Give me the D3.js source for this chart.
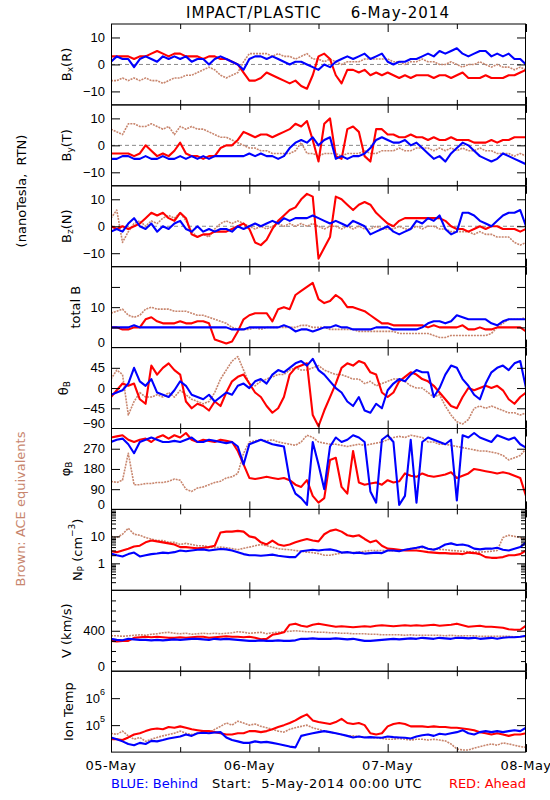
<!DOCTYPE html>
<html><head><meta charset="utf-8">
<script src="https://cdn.jsdelivr.net/npm/d3@7"></script>
<style>
body{margin:0;background:#fff;}
svg text{font-family:"DejaVu Sans",sans-serif;}
</style></head><body>
<svg id="c" width="550" height="800"></svg>
<script>
// ---- time (hours since 05-May-2014 00:00 UTC) ----
const hourOffsets = [0,1,2,3,4,5,6,7,8,9,10,11,12,13,14,15,16,17,18,19,20,21,22,23,24,25,26,27,28,29,30,31,32,33,34,35,36,37,38,39,40,41,42,43,44,45,46,47,48,49,50,51,52,53,54,55,56,57,58,59,60,61,62,63,64,65,66,67,68,69,70,71,72];
const timeTickHours = [0,12,24,36,48,60,72];
const dayLabelHours = [0,24,48,72];
const dayLabels = ["05-May","06-May","07-May","08-May"];

// ---- Bx (R), nT ----
const bxBlue = [1,3,2,2,-1,2,3,2,1,3, 2,3,2,3,1,2,2,0,2,3, 2,1,0,-2,2,3,3,2,3,2, 1,0,1,1,0,-1,-2,0,-1,1, 2,3,2,3,4,2,3,4,1,0, 1,1,2,2,3,4,3,5,4,5, 6,4,3,4,5,5,3,4,3,4, 2,2,0];
const bxRed = [3,3,3,3,2,3,3,4,5,4, 3,4,4,3,3,3,2,3,3,2, 2,1,0,-3,-6,-6,-5,-3,-4,-5, -6,-7,-6,-8,-9,-4,3,4,2,-4, -7,-2,-2,-3,-2,-4,-3,-4,-3,-4, -5,-4,-5,-4,-4,-4,-5,-4,-4,-5, -4,-3,-5,-5,-5,-4,-5,-5,-5,-4, -4,-3,-2];
const bxBrown = [-6,-6,-5,-6,-5,-6,-5,-6,-6,-7, -6,-5,-5,-4,-4,-3,-2,-1,-2,-4, -5,-4,-3,1,4,4,4,4,3,4, 3,3,2,3,4,2,2,1,2,1, 0,1,1,1,2,2,2,2,2,1, 1,0,1,1,2,1,1,0,0,1, 0,-1,0,0,1,0,-1,0,-1,-1, -2,-1,-2];
// ---- By (T) ----
const byBlue = [-5,-5,-4,-4,-5,-5,-4,-5,-5,-4, -5,-5,-4,-5,-4,-5,-4,-5,-4,-4, -4,-4,-4,-4,-3,-4,-3,-4,-4,-5, -4,-1,1,2,1,3,0,2,3,-5, -4,-5,-4,-4,-3,-1,2,3,2,1, 1,2,0,1,-1,-3,-5,-4,-6,-3, -1,1,0,-2,-4,-5,-6,-5,-3,-4, -5,-6,-7];
const byRed = [-3,-3,-3,-3,-4,-3,0,-2,-4,-3, -4,-2,1,-3,-4,-4,-5,-4,-4,-1, 0,0,2,5,4,3,4,4,3,4, 5,6,8,7,9,2,-6,8,10,-4, -5,6,7,5,-4,-6,6,6,4,4, 3,3,4,3,3,2,3,2,2,3, 2,2,2,1,1,1,2,1,2,2, 3,3,3];
const byBrown = [6,5,4,8,8,7,7,8,7,6, 7,4,7,6,7,6,6,5,4,3, 3,2,1,0,-1,-1,-2,-2,-3,-3, -3,-3,-2,1,-3,-3,-4,-3,-3,-3, -4,-3,-3,-3,-2,-3,-3,-2,-2,-2, -1,-2,-2,-1,-1,-1,-2,-1,-2,-1, -2,-1,-2,-2,-1,-2,-2,-3,-3,-3, -4,-3,-4];
// ---- Bz (N) ----
const bzBlue = [-2,-1,-2,1,3,0,-1,1,-2,0, -1,1,2,-1,-2,0,-2,-1,-2,-1, -1,-2,0,-1,0,1,0,1,2,1, 3,2,3,3,3,4,3,2,1,2, 1,0,2,1,0,-3,-2,-1,0,-2, -3,-2,-1,2,1,3,2,4,-1,-3, -2,5,5,4,2,1,0,2,4,5, 5,6,0];
const bzRed = [0,-1,0,-1,0,1,3,5,4,5, 3,2,5,3,-3,-4,-3,-3,-2,-2, -2,-1,0,1,-1,-6,-7,-5,-1,2, 4,6,7,10,12,11,-12,-8,-4,11, 10,8,6,8,9,8,5,3,1,0, 2,3,3,3,3,3,3,3,2,0, -1,-1,-2,-1,0,-1,0,0,-1,-1, -1,-2,-1];
const bzBrown = [3,6,-6,-2,1,2,0,2,1,3, 4,3,5,2,-2,-4,-3,-4,-1,1, 2,1,2,1,0,-1,0,-1,0,1, 0,1,0,1,0,1,0,-1,0,0, -1,0,-1,0,-1,-1,0,-1,-1,-1, 0,-1,-1,0,-1,0,0,-1,-1,-2, -2,-2,-2,-3,-2,-3,-3,-4,-4,-4, -6,-7,-6];
// ---- total B ----
const btBlue = [5,5,5,5,5.5,5,5,5,5,5, 5,5,5,5,5,5,5,5,5,5, 5,4.5,4.5,4.5,5,5,5,5,5,5, 5.5,5,4,4.5,4.5,4,4.5,5,5,5.5, 5,5,4.5,4.5,4.5,4.5,5,5,5,4.5, 4.5,4.5,4.5,4.5,5,6,6.5,6.5,6,6.5, 8,7.5,7,7,7,7,6,5.5,6.5,7, 7,7,7];
const btRed = [5,5,4.5,4.5,5,5,7,7.5,6.5,6, 6,6,6.5,6,6,6.5,6.5,6,2,1.5, 1,1.5,4,7,8,8.5,8.5,8.5,6.5,9.5, 10,9.5,13,14,15,16,12,11,11.5,13, 12,10,10,9.5,9,8,7,6,6,5.5, 5.5,5.5,5.5,5.5,5.5,5,5.5,5,5,5, 5,5.5,4.5,4.5,5,4.5,4.5,5,5,5, 5,5,4];
const btBrown = [8.5,9,9.5,8,7.5,8,9.5,10,9.5,9.5, 9.5,9,9,9,8.5,8,8,7.5,7,6.5, 6,5,4.5,4.5,4.5,5,4.5,5,5,5, 5,5,5,5.5,5.5,5,5,5,4.5,4.5, 4.5,4.5,4.5,4,4,4,4,4,4,4, 3.5,3.5,3.5,3.5,3.5,3.5,3,2.5,2.5,3, 3,3,3,3,3,3,3.5,5,6,7, 7,7,7.5];
// ---- theta_B (deg) ----
const thBlue = [-15,-10,-5,10,45,15,5,20,-10,-15, -20,-5,15,5,-15,-20,-25,-15,-30,-20, -10,-15,5,10,0,15,20,10,30,40, 35,45,55,60,50,65,40,30,15,0, -10,-30,-40,-20,-50,-55,-35,-45,-5,10, 20,15,30,40,35,35,-20,0,30,50, 45,20,5,-15,-25,10,35,45,50,40, 55,60,0];
const thRed = [-20,-5,10,5,10,-25,-35,50,30,45, 55,40,30,-30,-45,-35,-40,-50,-30,-40, -10,15,25,30,10,-10,-20,-40,-55,-45, -20,30,45,50,55,-60,-85,-50,-20,10, 45,55,50,60,55,35,30,-10,-20,-10, 15,25,35,30,20,15,5,-10,-25,-40, -45,-20,0,-5,0,5,0,5,-5,-25, -35,-20,-10];
const thBrown = [20,40,30,-60,-30,-10,-20,-20,-15,-20, -10,-20,-5,-15,-25,-30,-35,-30,-10,20, 40,60,70,40,10,5,15,20,25,30, 30,40,45,40,40,45,50,40,35,30, 30,25,20,20,10,15,5,10,15,20, 20,15,5,0,0,-10,-20,-15,-40,-60, -75,-80,-70,-45,-40,-45,-40,-45,-50,-55, -55,-60,-55];
// ---- phi_B (deg) ----
const phBlue = [300,310,315,290,250,300,310,320,310,300, 300,305,300,310,320,300,300,310,305,300, 295,300,280,200,290,300,310,300,290,285, 280,130,70,50,20,300,200,90,280,320, 300,310,330,320,300,80,30,310,330,300, 20,60,310,30,300,320,310,300,290,310, 40,330,320,340,320,310,300,330,320,310, 320,290,275];
const phRed = [320,325,330,310,300,310,315,300,320,330, 315,330,320,340,310,300,310,305,300,310, 305,300,260,200,140,135,140,145,140,135, 140,130,110,100,130,60,30,50,220,230, 100,70,260,120,110,115,120,110,130,120, 125,160,150,145,160,150,145,150,155,165, 140,150,160,180,175,170,165,160,165,160, 150,140,60];
const phBrown = [125,120,130,250,110,110,115,115,120,120, 125,135,130,90,80,95,100,110,120,125, 140,145,160,250,300,305,310,305,310,300, 295,290,285,300,330,320,300,295,290,290, 285,280,285,290,285,290,295,300,310,320, 325,320,330,325,320,300,300,290,290,285, 280,275,270,265,260,260,255,250,240,220, 230,240,270];
// ---- Np (cm^-3) ----
const npBlue = [2.3,2.0,1.8,2.2,2.5,1.8,2.0,2.2,2.3,2.5, 2.4,2.6,3.0,2.8,3.0,3.2,3.3,3.0,3.2,3.4, 3.3,3.0,2.6,2.2,2.0,2.0,1.9,2.0,2.1,1.9, 1.8,1.7,1.7,2.8,3.0,3.2,3.0,3.2,3.3,3.0, 2.5,2.6,2.4,2.5,2.3,2.4,2.5,2.4,3.0,3.0, 2.8,3.2,3.5,3.8,4.2,3.5,3.2,3.8,5.0,5.5, 4.8,5.0,4.5,3.5,3.3,3.5,3.5,3.8,3.2,3.0, 3.5,4.0,6.0];
const npRed = [2.8,2.6,3.0,3.5,4.2,4.5,6.0,7.0,6.5,6.0, 5.5,5.0,4.0,4.0,3.8,3.6,3.8,4.0,4.5,14, 15,15,16,15,10,9,6,5,7,5, 4.5,5,6,7,8,7,6.5,12,16,18, 15,11,10,11,8,6,7,4.5,3.5,3.4, 3.2,3.0,3.0,3.0,2.8,2.6,2.5,2.4,2.4,2.3, 2.3,2.2,2.5,2.4,2.2,1.7,1.6,1.6,1.7,2.0, 2.0,2.2,3.0];
const npBrown = [10,9,12,20,12,11,9,8,7,7, 6,6,5,5.5,5,4.5,4.5,4,3.8,4, 3.8,3.5,3.2,3.6,4,4.5,5,4.5,4,3.5, 3.3,3.2,3,2.8,2.6,2.5,2.3,2.0,2.0,2.2, 2.4,2.6,2.5,2.6,2.8,3.0,3.0,3.0,3.0,2.9, 3.0,3.2,3.5,3.6,3.8,3.5,3.4,3.3,3.2,3.0, 2.9,2.8,2.7,2.6,2.6,2.7,2.8,3.0,9,11, 10,9,8];
// ---- V (km/s) ----
const vBlue = [320,310,305,320,315,310,310,305,310,305, 310,315,310,315,320,320,315,310,320,315, 320,315,310,305,300,300,305,300,300,305, 300,300,305,320,320,325,320,320,320,325, 320,315,320,310,300,300,305,310,315,320, 315,320,325,320,330,325,320,330,325,320, 330,330,325,330,320,325,330,320,330,335, 335,340,350];
const vRed = [300,295,300,300,330,335,340,335,340,335, 330,330,335,330,335,340,340,330,335,340, 345,340,340,335,340,330,315,320,360,370, 385,460,470,450,440,460,470,460,450,440, 445,440,435,440,445,440,450,455,450,445, 450,455,450,455,450,455,460,450,455,460, 470,455,440,445,450,440,440,435,430,415, 410,410,450];
const vBrown = [350,350,345,350,355,360,355,365,370,380, 385,375,370,375,365,370,375,370,375,370, 375,380,390,385,375,380,385,370,380,385, 390,395,400,395,390,390,385,385,380,380, 375,375,370,370,370,365,365,360,360,360, 360,355,360,355,355,355,355,355,350,355, 350,350,350,350,345,345,345,345,345,345, 340,340,340];
// ---- Ion temperature, in units of 1e4 K ----
const tempBlue = [3.5,3.0,2.5,2.0,1.8,2.2,2.0,2.6,2.5,2.8, 3.2,3.5,3.8,4.5,4.0,5.0,5.2,5.0,5.3,5.5, 3.5,2.8,2.5,2.2,2.2,2.5,2.3,2.4,2.2,2.0, 1.8,1.6,1.5,4.0,4.5,5.0,5.5,6.0,5.5,5.0, 4.5,4.0,3.5,3.8,3.5,3.6,3.5,3.4,3.8,3.6, 3.5,3.4,3.2,3.8,4.2,4.5,4.0,4.8,4.5,5.0, 5.5,6.5,5.0,4.5,5.5,6.0,5.5,6.0,5.5,6.0, 6.5,6.0,8.0];
const tempRed = [3.0,3.0,2.8,3.5,4.5,5.0,6.0,7.0,7.5,7.0, 8.5,8.0,9.0,8.0,7.0,6.5,6.0,6.0,5.5,5.0, 4.5,4.5,5.0,5.0,6.0,6.0,5.5,6.0,7.0,8.5, 10,12,15,20,25,15,13,12,11,13, 17,12,11,12,10,5.0,4.5,5.0,9.0,11, 12,11,9.0,9.0,9.0,8.5,9.0,8.5,8.5,8.0, 8.0,7.5,7.0,6.5,5.5,5.0,4.5,5.0,4.5,4.0, 4.5,4.5,5.0];
const tempBrown = [5.0,4.5,6.0,4.0,3.0,3.5,2.5,3.0,3.5,4.0, 4.5,5.0,6.0,5.0,4.5,5.0,5.5,5.0,7.0,9.0, 12,10,14,12,10,11,9,8,7,6, 5.5,7,8,9,10,8,7,6,5.5,5, 4.5,4,4,3.8,3.6,3.5,3.4,3.2,3.0,3.0, 3.2,3.0,2.8,3.0,3.0,2.8,3.0,2.8,2.6,2.0, 1.3,1.2,1.2,1.4,1.6,1.8,2.0,1.8,2.2,2.0, 1.8,1.6,1.5];

// ---- tick values / tick labels ----
const bTicks = [-10,0,10], bTickLabels = [-10,0,10];
const btTicks = [5,10,15], btTickLabels = [0,10];
const thTicks = [-45,0,45], thTickLabels = [45,0,-45,-90];
const phTicks = [90,180,270], phTickLabels = [270,180,90,0];
const npMajor = [1,10], npTickLabels = [1,10];
const npMinor = [0.2,0.3,0.4,0.5,0.6,0.7,0.8,0.9,2,3,4,5,6,7,8,9,20,30,40,50,60,70,80,90];
const vMajor = [400], vMinor = [100,200,300,500,600,700], vTickLabels = [400,0];
const tempTicks = [1e5,1e6], tempTickExp = [5,6];

const COLORS = {brown:"#c8866e", red:"#ff0000", blue:"#0000ff"};
const svg = d3.select("#c");
const X0 = 111, X1 = 526, TOP = 24, PH = 80.9;
const x = d3.scaleLinear().domain([0,72]).range([X0, X1]);

const fmt = v => v < 0 ? "\u2212" + Math.abs(v) : String(v);

const panels = [
  {lab:[["B"],["x","sub"],["(R)"]], lx:66, type:"lin", domain:[-15,15], major:bTicks, minor:[], labels:bTickLabels, zero:true, s:[bxBrown,bxRed,bxBlue]},
  {lab:[["B"],["y","sub"],["(T)"]], lx:66, type:"lin", domain:[-15,15], major:bTicks, minor:[], labels:bTickLabels, zero:true, s:[byBrown,byRed,byBlue]},
  {lab:[["B"],["z","sub"],["(N)"]], lx:66, type:"lin", domain:[-15,15], major:bTicks, minor:[], labels:bTickLabels, zero:true, s:[bzBrown,bzRed,bzBlue]},
  {lab:[["total B"]], lx:75, type:"lin", domain:[0,20], major:btTicks, minor:[], labels:btTickLabels, s:[btBrown,btRed,btBlue]},
  {lab:[["\u03b8"],["B","sub"]], lx:63, type:"lin", domain:[-90,90], major:thTicks, minor:[], labels:thTickLabels, s:[thBrown,thRed,thBlue]},
  {lab:[["\u03c6"],["B","sub"]], lx:65, type:"lin", domain:[0,360], major:phTicks, minor:[], labels:phTickLabels, s:[phBrown,phRed,phBlue]},
  {lab:[["N"],["P","sub"],[" (cm"],["\u22123","sup"],[")"]], lx:77, type:"log", domain:[0.1,100], major:npMajor, minor:npMinor, labels:npTickLabels, s:[npBrown,npRed,npBlue]},
  {lab:[["V (km/s)"]], lx:66, type:"lin", domain:[0,800], major:vMajor, minor:vMinor, labels:vTickLabels, s:[vBrown,vRed,vBlue]},
  {lab:[["Ion Temp"]], lx:68, type:"log", domain:[1e4,1e7], major:tempTicks, minor:[], labels:[], exp:tempTickExp, mult:1e4, s:[tempBrown,tempRed,tempBlue]}
];

const defs = svg.append("defs");
panels.forEach((p,i)=>{
  const top = TOP + i*PH, bot = top + PH;
  const y = (p.type==="log" ? d3.scaleLog() : d3.scaleLinear()).domain(p.domain).range([bot, top]);
  const g = svg.append("g");
  defs.append("clipPath").attr("id","cp"+i).append("rect")
    .attr("x",X0).attr("y",top).attr("width",X1-X0).attr("height",PH);
  if (p.zero) {
    g.append("line").attr("x1",X0).attr("x2",X1).attr("y1",y(0)).attr("y2",y(0))
      .attr("stroke","#888").attr("stroke-dasharray","4,3").attr("stroke-width",1);
  }
  const pg = g.append("g").attr("clip-path","url(#cp"+i+")");
  const m = p.mult || 1;
  const line = d3.line().x((d,j)=>x(hourOffsets[j])).y(d=>y(d*m));
  const cols = [COLORS.brown, COLORS.red, COLORS.blue];
  p.s.forEach((arr,k)=>{
    const path = pg.append("path").datum(arr).attr("d",line).attr("fill","none")
      .attr("stroke",cols[k]).attr("stroke-width", k===0?1.6:2.1).attr("stroke-linejoin","round");
    if (k===0) path.attr("stroke-dasharray","2,1");
  });
  // frame
  g.append("rect").attr("x",X0+0.5).attr("y",top).attr("width",X1-X0-1).attr("height",PH)
    .attr("fill","none").attr("stroke","#000").attr("stroke-width",1);
  // y ticks via d3 axes (inward)
  const addY = (vals, len) => {
    if (!vals.length) return;
    g.append("g").attr("transform",`translate(${X0},0)`)
      .call(d3.axisLeft(y).tickValues(vals).tickSize(-len).tickFormat(""))
      .call(a=>{a.select(".domain").remove(); a.selectAll("line").attr("stroke","#000");});
    g.append("g").attr("transform",`translate(${X1},0)`)
      .call(d3.axisRight(y).tickValues(vals).tickSize(-len).tickFormat(""))
      .call(a=>{a.select(".domain").remove(); a.selectAll("line").attr("stroke","#000");});
  };
  addY(p.major, 9);
  addY(p.minor, 5);
  // x ticks, top & bottom
  const major = timeTickHours.filter(h=>h%24===0), minor = timeTickHours.filter(h=>h%24!==0);
  [[major,8],[minor,5]].forEach(([vals,len])=>{
    g.append("g").attr("transform",`translate(0,${top})`)
      .call(d3.axisTop(x).tickValues(vals).tickSize(-len).tickFormat(""))
      .call(a=>{a.select(".domain").remove(); a.selectAll("line").attr("stroke","#000");});
    g.append("g").attr("transform",`translate(0,${bot})`)
      .call(d3.axisBottom(x).tickValues(vals).tickSize(-len).tickFormat(""))
      .call(a=>{a.select(".domain").remove(); a.selectAll("line").attr("stroke","#000");});
  });
  // tick labels
  p.labels.forEach(v=>{
    let yy = y(v);
    if (Math.abs(yy-bot) < 1) yy -= 5;
    g.append("text").attr("x",105).attr("y",yy).attr("text-anchor","end")
      .attr("dominant-baseline","central").attr("font-size",13)
      .style("font-family","'Liberation Sans',Arial,sans-serif").text(fmt(v));
  });
  if (p.exp) {
    p.major.forEach((v,j)=>{
      const t = g.append("text").attr("x",105).attr("y",y(v)).attr("text-anchor","end")
        .attr("dominant-baseline","central").attr("font-size",13)
        .style("font-family","'Liberation Sans',Arial,sans-serif");
      t.append("tspan").text("10");
      t.append("tspan").attr("font-size",9).attr("dy",-6).text(p.exp[j]);
    });
  }
  // rotated axis label
  const yc = (top+bot)/2;
  const t = svg.append("text").attr("transform",`translate(${p.lx},${yc}) rotate(-90)`)
    .attr("text-anchor","middle").attr("dominant-baseline","central").attr("font-size",13);
  let shift = 0;
  p.lab.forEach(([s,kind])=>{
    const ts = t.append("tspan").text(s);
    if (kind==="sub") { ts.attr("font-size",9).attr("dy",4-shift); shift = 4; }
    else if (kind==="sup") { ts.attr("font-size",9).attr("dy",-5-shift); shift = -5; }
    else if (shift!==0) { ts.attr("dy",-shift); shift = 0; }
  });
});

// side labels
svg.append("text").attr("transform","translate(21,191) rotate(-90)").attr("text-anchor","middle")
  .attr("dominant-baseline","central").attr("font-size",13).style("white-space","pre")
  .text("(nanoTesla,  RTN)");
svg.append("text").attr("transform","translate(20,509) rotate(-90)").attr("text-anchor","middle")
  .attr("dominant-baseline","central").attr("font-size",13).attr("fill",COLORS.brown)
  .text("Brown: ACE equivalents");

// title
svg.append("text").attr("x",318).attr("y",18).attr("text-anchor","middle").attr("font-size",15)
  .attr("letter-spacing",1).style("white-space","pre").text("IMPACT/PLASTIC     6-May-2014");

// bottom date labels
dayLabelHours.forEach((h,j)=>{
  svg.append("text").attr("x",x(h)).attr("y",770).attr("text-anchor","middle").attr("font-size",13)
    .attr("letter-spacing",0.5).text(dayLabels[j]);
});
svg.append("text").attr("x",111).attr("y",788).attr("font-size",13).attr("fill",COLORS.blue).text("BLUE: Behind");
svg.append("text").attr("x",212).attr("y",788).attr("font-size",13).attr("letter-spacing",0.6)
  .style("white-space","pre").text("Start:  5-May-2014 00:00 UTC");
svg.append("text").attr("x",526).attr("y",788).attr("text-anchor","end").attr("font-size",13)
  .attr("fill",COLORS.red).text("RED: Ahead");
</script>
</body></html>
